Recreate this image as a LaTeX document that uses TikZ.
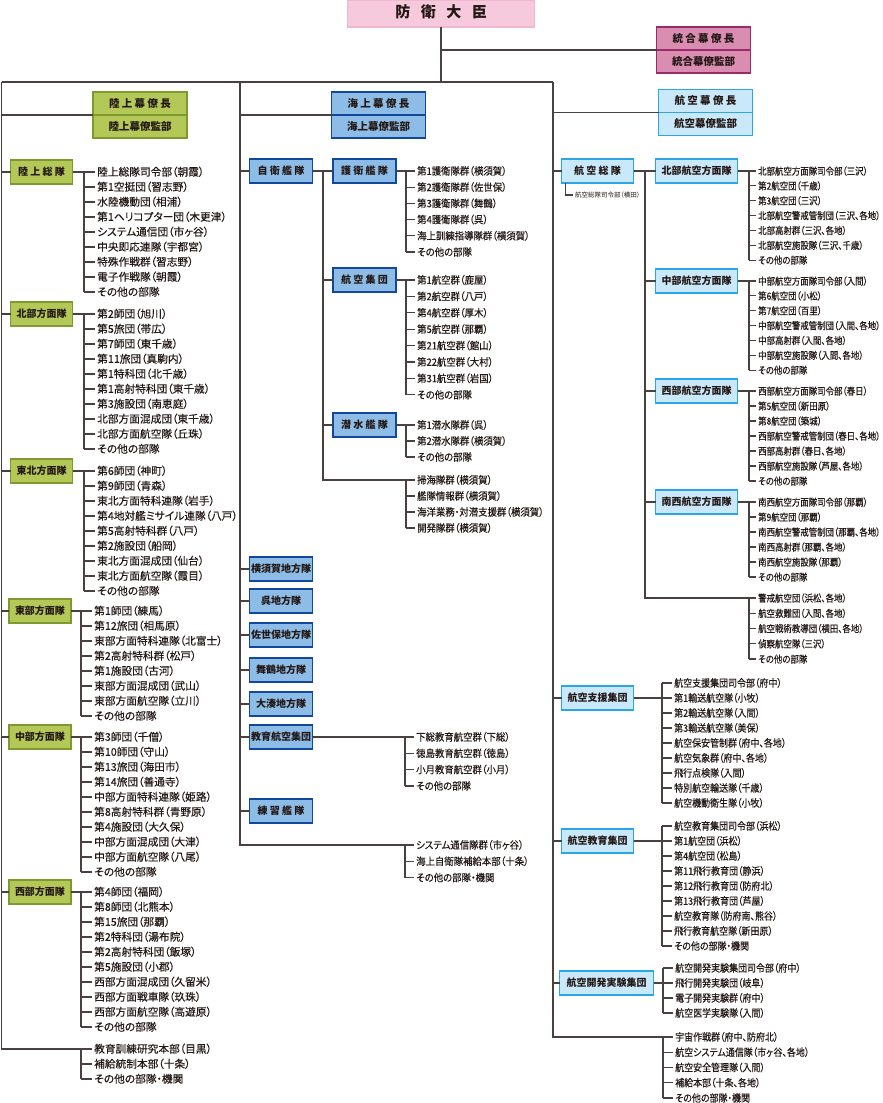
\documentclass[tikz,border=0pt]{standalone}
\usepackage{fontspec}
\setmainfont{Noto Sans CJK JP}[RawFeature=+palt]
\newfontfamily\spc{Noto Sans CJK JP}[LetterSpace=22,RawFeature=+palt]
\newfontfamily\spcw{Noto Sans CJK JP}[LetterSpace=70]
\newfontfamily\ufl{Noto Sans CJK JP}[RawFeature=+palt,FakeBold=0.4]
\newfontfamily\ufm{Noto Sans CJK JP}[RawFeature=+palt,FakeBold=0.4,FakeStretch=0.92]
\newfontfamily\ufr{Noto Sans CJK JP}[RawFeature=+palt,FakeBold=0.4,FakeStretch=0.88]
\newfontfamily\ufn{Noto Sans CJK JP}[RawFeature=+palt,FakeBold=0.4,FakeStretch=0.86]
\usepackage{tikz}
\usetikzlibrary{positioning}

\definecolor{linec}{HTML}{4A4040}
\definecolor{textc}{HTML}{231815}
\definecolor{gfill}{HTML}{B4C858}
\definecolor{gdraw}{HTML}{7E9A2E}
\definecolor{mfill}{HTML}{8DBCE6}
\definecolor{mdraw}{HTML}{12489C}
\definecolor{afill}{HTML}{C9E9FA}
\definecolor{adraw}{HTML}{2AA5E6}
\definecolor{pfill}{HTML}{F7C9DD}
\definecolor{pdraw}{HTML}{F0B8D0}
\definecolor{jfill}{HTML}{D98DB0}
\definecolor{jdraw}{HTML}{9A2A68}

\tikzset{
  ln/.style={draw=linec, line width=1.5pt},
  tk/.style={draw=linec, line width=1.2pt},
  box/.style={line width=1.6pt, inner sep=0pt, outer sep=0pt, minimum height=24pt,
    text=textc, text height=0.88em, text depth=0.12em, font=\bfseries\fontsize{10}{12}\selectfont},
  gbox/.style={box, draw=gdraw, fill=gfill, minimum width=62pt},
  mbox/.style={box, draw=mdraw, fill=mfill, minimum width=63pt},
  abox/.style={box, draw=adraw, fill=afill, minimum width=72pt},
  staff/.style={minimum width=94pt, minimum height=23pt, font=\bfseries\fontsize{10.5}{12}\selectfont},
  ucol/.style={font=\ufl\fontsize{10.7}{12}\selectfont, xshift=13pt},
  unit/.style={anchor=west, inner sep=0pt, text=textc, text height=0.88em, text depth=0.12em, ucol},
  hq/.style={anchor=west, inner sep=0pt, text=textc, font=\fontsize{6.5}{8}\selectfont},
}

\newcommand\unitlist[5]{%
  \foreach \lbl [count=\i] in {#5} {
    \coordinate (#1-t\i) at (#2,{#3+(\i-1)*#4});
    \node (#1-\i) [unit] at (#1-t\i) {\lbl};
    \draw[tk] (#1-t\i) -- ([xshift=-2pt]#1-\i.west);
    \xdef\lastunit{\i}
  }
  \draw[tk] (#1-t1) -- (#1-t\lastunit);
}

\begin{document}
\begin{tikzpicture}[x=1pt,y=-1pt]
\useasboundingbox (0,0) rectangle (883,1103);

\node (min) [box, draw=pdraw, fill=pfill, minimum width=187pt, minimum height=27pt,
  font=\bfseries\fontsize{15}{18}\selectfont] at (441,13.5) {\spcw 防衛大臣};
\node (jcs) [box, staff, draw=jdraw, fill=jfill] at (703.5,38.5) {\spc 統合幕僚長};
\node (jso) [box, staff, draw=jdraw, fill=jfill, below=0pt of jcs] {統合幕僚監部};

\coordinate (hub) at (441,82);
\coordinate (gt) at (1.5,82);
\coordinate (mt) at (240,82);
\coordinate (at) at (553,82);
\draw[ln] (min) -- (hub);
\draw[ln] (jcs.south west) -- (jcs.south west -| hub);
\draw[ln] (gt) -- (at);

\node (gcs) [gbox, staff] at (140,103.5) {\spc 陸上幕僚長};
\node (gso) [gbox, staff, below=0pt of gcs] {陸上幕僚監部};
\node (mcs) [mbox, staff] at (378.5,103.5) {\spc 海上幕僚長};
\node (mso) [mbox, staff, below=0pt of mcs] {海上幕僚監部};
\node (acs) [abox, staff] at (705.5,101) {\spc 航空幕僚長};
\node (aso) [abox, staff, below=0pt of acs] {航空幕僚監部};
\draw[ln] (gcs.south west) -- (gcs.south west -| gt);
\draw[ln] (mcs.south west) -- (mcs.south west -| mt);
\draw[ln] (acs.south west) -- (acs.south west -| at);

\node (gcc) [gbox] at (41.5,172) {\spc 陸上総隊};
\node (na) [gbox] at (41.5,314) {北部方面隊};
\node (nea) [gbox] at (41.5,471) {東北方面隊};
\node (ea) [gbox] at (40,611) {東部方面隊};
\node (ma) [gbox] at (40,737) {中部方面隊};
\node (wa) [gbox] at (40,892) {西部方面隊};

\unitlist{g1}{84}{172}{15}{陸上総隊司令部（朝霞）,第1空挺団（習志野）,水陸機動団（相浦）,第1ヘリコプター団（木更津）,システム通信団（市ヶ谷）,中央即応連隊（宇都宮）,特殊作戦群（習志野）,電子作戦隊（朝霞）,その他の部隊}
\unitlist{g2}{84}{314}{15}{第2師団（旭川）,第5旅団（帯広）,第7師団（東千歳）,第11旅団（真駒内）,第1特科団（北千歳）,第1高射特科団（東千歳）,第3施設団（南恵庭）,北部方面混成団（東千歳）,北部方面航空隊（丘珠）,その他の部隊}
\unitlist{g3}{84}{471}{15}{第6師団（神町）,第9師団（青森）,東北方面特科連隊（岩手）,第4地対艦ミサイル連隊（八戸）,第5高射特科群（八戸）,第2施設団（船岡）,東北方面混成団（仙台）,東北方面航空隊（霞目）,その他の部隊}
\unitlist{g4}{81}{611}{15}{第1師団（練馬）,第12旅団（相馬原）,東部方面特科連隊（北富士）,第2高射特科群（松戸）,第1施設団（古河）,東部方面混成団（武山）,東部方面航空隊（立川）,その他の部隊}
\unitlist{g5}{81}{737}{15}{第3師団（千僧）,第10師団（守山）,第13旅団（海田市）,第14旅団（善通寺）,中部方面特科連隊（姫路）,第8高射特科群（青野原）,第4施設団（大久保）,中部方面混成団（大津）,中部方面航空隊（八尾）,その他の部隊}
\unitlist{g6}{81}{892}{15}{第4師団（福岡）,第8師団（北熊本）,第15旅団（那覇）,第2特科団（湯布院）,第2高射特科団（飯塚）,第5施設団（小郡）,西部方面混成団（久留米）,西部方面戦車隊（玖珠）,西部方面航空隊（高遊原）,その他の部隊}
\unitlist{g7}{81}{1049}{15}{教育訓練研究本部（目黒）,補給統制本部（十条）,その他の部隊・機関}

\node (sdf) [mbox] at (281,171) {\spc 自衛艦隊};
\node (ef) [mbox] at (364.5,171) {\spc 護衛艦隊};
\node (fai) [mbox] at (364.5,280) {\spc 航空集団};
\node (sf) [mbox] at (364.5,425) {\spc 潜水艦隊};
\node (yok) [mbox] at (281,569) {横須賀地方隊};
\node (kur) [mbox] at (281,601) {呉地方隊};
\node (sas) [mbox] at (281,635) {佐世保地方隊};
\node (mai) [mbox] at (281,670) {舞鶴地方隊};
\node (omi) [mbox] at (281,704) {大湊地方隊};
\node (eac) [mbox] at (281,737) {教育航空集団};
\node (tsq) [mbox] at (281,811) {\spc 練習艦隊};

\tikzset{ucol/.style={font=\ufm\fontsize{10.2}{12}\selectfont, xshift=11pt}}
\unitlist{m1}{406}{171}{16.2}{第1護衛隊群（横須賀）,第2護衛隊群（佐世保）,第3護衛隊群（舞鶴）,第4護衛隊群（呉）,海上訓練指導隊群（横須賀）,その他の部隊}
\unitlist{m2}{406}{280}{16.4}{第1航空群（鹿屋）,第2航空群（八戸）,第4航空群（厚木）,第5航空群（那覇）,第21航空群（館山）,第22航空群（大村）,第31航空群（岩国）,その他の部隊}
\unitlist{m3}{406}{425}{16}{第1潜水隊群（呉）,第2潜水隊群（横須賀）,その他の部隊}
\unitlist{m4}{406}{480}{16}{掃海隊群（横須賀）,艦隊情報群（横須賀）,海洋業務・対潜支援群（横須賀）,開発隊群（横須賀）}
\unitlist{m5}{405}{737}{16.3}{下総教育航空群（下総）,徳島教育航空群（徳島）,小月教育航空群（小月）,その他の部隊}
\unitlist{m6}{405}{845}{16.3}{システム通信隊群（市ヶ谷）,海上自衛隊補給本部（十条）,その他の部隊・機関}

\node (adc) [abox] at (597.5,171) {\spc 航空総隊};
\node (adch) [hq] at (575,195) {航空総隊司令部（横田）};
\node (nadf) [abox, minimum width=82pt] at (696.5,171) {北部航空方面隊};
\node (cadf) [abox, minimum width=82pt] at (696.5,281) {中部航空方面隊};
\node (wadf) [abox, minimum width=82pt] at (696.5,391) {西部航空方面隊};
\node (swadf) [abox, minimum width=82pt] at (696.5,502) {南西航空方面隊};
\node (asc) [abox] at (597.5,698) {航空支援集団};
\node (aetc) [abox] at (597.5,841) {航空教育集団};
\node (adtw) [abox, minimum width=94pt] at (606.5,983) {航空開発実験集団};

\tikzset{ucol/.style={font=\ufn\fontsize{9.8}{12}\selectfont, xshift=9pt}}
\unitlist{a1}{749}{171}{14.85}{北部航空方面隊司令部（三沢）,第2航空団（千歳）,第3航空団（三沢）,北部航空警戒管制団（三沢、各地）,北部高射群（三沢、各地）,北部航空施設隊（三沢、千歳）,その他の部隊}
\unitlist{a2}{749}{281}{14.85}{中部航空方面隊司令部（入間）,第6航空団（小松）,第7航空団（百里）,中部航空警戒管制団（入間、各地）,中部高射群（入間、各地）,中部航空施設隊（入間、各地）,その他の部隊}
\unitlist{a3}{749}{391}{15}{西部航空方面隊司令部（春日）,第5航空団（新田原）,第8航空団（築城）,西部航空警戒管制団（春日、各地）,西部高射群（春日、各地）,西部航空施設隊（芦屋、各地）,その他の部隊}
\unitlist{a4}{749}{502}{15}{南西航空方面隊司令部（那覇）,第9航空団（那覇）,南西航空警戒管制団（那覇、各地）,南西高射群（那覇、各地）,南西航空施設隊（那覇）,その他の部隊}
\unitlist{a5}{749}{598}{15.25}{警戒航空団（浜松、各地）,航空救難団（入間、各地）,航空戦術教導団（横田、各地）,偵察航空隊（三沢）,その他の部隊}
\tikzset{ucol/.style={font=\ufr\fontsize{10.2}{12}\selectfont, xshift=12pt}}
\unitlist{a6}{662}{683}{15}{航空支援集団司令部（府中）,第1輸送航空隊（小牧）,第2輸送航空隊（入間）,第3輸送航空隊（美保）,航空保安管制群（府中、各地）,航空気象群（府中、各地）,飛行点検隊（入間）,特別航空輸送隊（千歳）,航空機動衛生隊（小牧）}
\unitlist{a7}{662}{826}{15}{航空教育集団司令部（浜松）,第1航空団（浜松）,第4航空団（松島）,第11飛行教育団（静浜）,第12飛行教育団（防府北）,第13飛行教育団（芦屋）,航空教育隊（防府南、熊谷）,飛行教育航空隊（新田原）,その他の部隊・機関}
\unitlist{a8}{663}{968}{15}{航空開発実験集団司令部（府中）,飛行開発実験団（岐阜）,電子開発実験群（府中）,航空医学実験隊（入間）}
\unitlist{a9}{663}{1037}{15.25}{宇宙作戦群（府中、防府北）,航空システム通信隊（市ヶ谷、各地）,航空安全管理隊（入間）,補給本部（十条、各地）,その他の部隊・機関}

\draw[ln] (gt) |- (g7-t1);
\draw[ln] (mt) |- (m6-t1);
\draw[ln] (at) |- (a9-t1);
\foreach \b in {gcc,na,nea,ea,ma,wa}
  \draw[ln] (\b.west) -- (\b.west -| gt);
\foreach \b in {sdf,yok,kur,sas,mai,omi,eac,tsq}
  \draw[ln] (\b.west) -- (\b.west -| mt);
\foreach \b in {adc,asc,aetc,adtw}
  \draw[ln] (\b.west) -- (\b.west -| at);
\foreach \b/\l in {gcc/g1,na/g2,nea/g3,ea/g4,ma/g5,wa/g6,ef/m1,fai/m2,sf/m3,eac/m5,
    nadf/a1,cadf/a2,wadf/a3,swadf/a4,asc/a6,aetc/a7,adtw/a8}
  \draw[ln] (\b.east) -- (\b.east -| \l-t1);

\coordinate (sdft) at (323,171);
\draw[ln] (sdf.east) -- (ef.west);
\draw[ln] (sdft) |- (m4-t1);
\foreach \b in {fai,sf}
  \draw[ln] (\b.west) -- (\b.west -| sdft);

\coordinate (adct) at (645,171);
\draw[ln] (adc.east) -- (nadf.west);
\draw[ln] (adct) |- (a5-t1);
\foreach \b in {cadf,wadf,swadf}
  \draw[ln] (\b.west) -- (\b.west -| adct);
\draw[tk] ([xshift=4pt]adc.south west) |- ([xshift=-2pt]adch.west);
\end{tikzpicture}
\end{document}
